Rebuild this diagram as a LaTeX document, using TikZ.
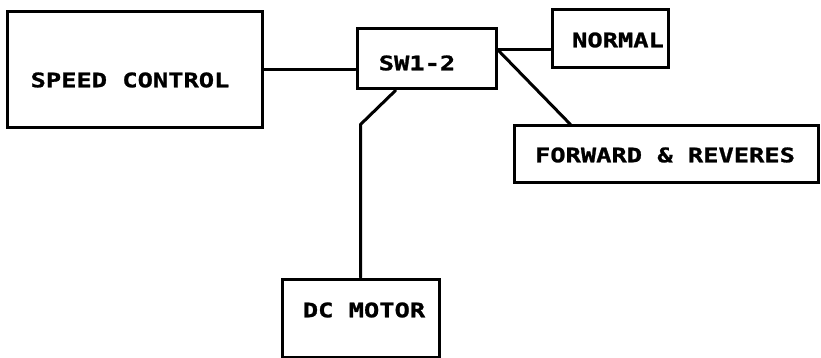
\documentclass[tikz,border=0pt]{standalone}
\usepackage{fontspec}
\newfontfamily\plotfont[FakeStretch=1.27, FakeBold=1.2]{DejaVu Sans Mono Bold}
\usetikzlibrary{calc}
\tikzset{
  blk/.style={draw, line width=3pt, rectangle, inner sep=0pt},
  lbl/.style={font=\plotfont\fontsize{20}{21}\selectfont, inner sep=0pt, anchor=center},
  wire/.style={line width=3pt, line cap=round, line join=round}
}
\begin{document}
\begin{tikzpicture}[x=1pt,y=-1pt]
\useasboundingbox (0,0) rectangle (821,358);
\node[blk, minimum width=255pt, minimum height=116pt] (sc) at (134.5,70) {};
\node[blk, minimum width=139pt, minimum height=60pt] (sw) at (426.5,59) {};
\node[blk, minimum width=116pt, minimum height=58pt] (nm) at (610,39) {};
\node[blk, minimum width=304pt, minimum height=57pt] (fr) at (666,154.5) {};
\node[blk, minimum width=157pt, minimum height=78pt] (dc) at (360.5,318) {};
\node[lbl] (tsc) at (130,80) {SPEED CONTROL};
\node[lbl] (tsw) at (417,63) {SW1-2};
\node[lbl] (tnm) at (618,40) {NORMAL};
\node[lbl] (tfr) at (665,155) {FORWARD \& REVERES};
\node[lbl] (tdc) at (364,310) {DC MOTOR};
\coordinate (swr) at ($(sw.north east)!0.35!(sw.south east)$);
\coordinate (swb) at ($(sw.south west)+(40,0)$);
\coordinate (bend) at ($(dc.north)+(0,-153)$);
\draw[wire] (sc.east) -- (sc.east -| sw.west);
\draw[wire] (swr) -- (swr -| nm.west);
\draw[wire] (swr) -- ($(fr.north west)+(58,0)$);
\draw[wire] (swb) -- (bend) -- (dc.north);
\end{tikzpicture}
\end{document}
